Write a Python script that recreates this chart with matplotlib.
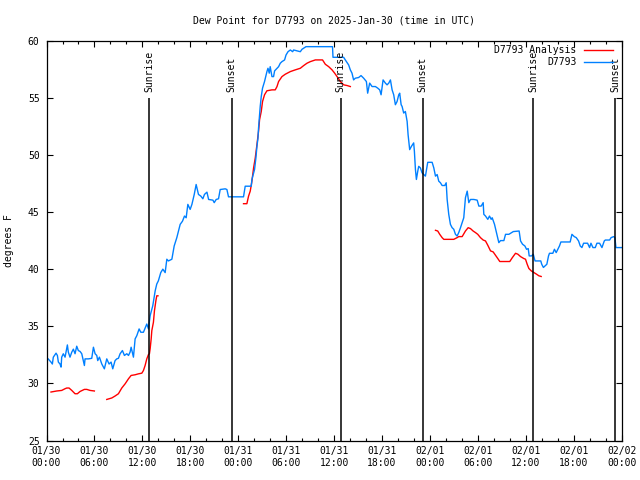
import matplotlib
matplotlib.use("Agg")
import matplotlib.pyplot as plt
import numpy as np
from matplotlib.ticker import MultipleLocator

# hours since 2025-01-30 00:00 UTC
blue_hours = [
    0.2, 0.56, 0.73, 0.85, 1.19, 1.36, 1.48, 1.69, 1.82, 1.9, 2.1, 2.32, 2.61, 2.73, 2.94,
    3.16, 3.36, 3.57, 3.78, 3.98, 4.2, 4.41, 4.61, 4.74, 4.82, 5.24, 5.66, 5.87, 6.08, 6.29,
    6.41, 6.62, 6.92, 7.24, 7.54, 7.83, 8.08, 8.29, 8.58, 8.79, 9.0, 9.21, 9.5, 9.75, 10.05,
    10.26, 10.46, 10.59, 10.88, 11.09, 11.3, 11.59, 11.8, 12.13, 12.55, 12.76, 12.97, 13.3,
    13.6, 13.8, 14.0, 14.3, 14.56, 14.85, 15.06, 15.26, 15.69, 15.98, 16.31, 16.52, 16.73,
    17.02, 17.27, 17.48, 17.69, 17.98, 18.2, 18.49, 18.73, 19.02, 19.32, 19.57, 19.77, 20.08,
    20.29, 20.83, 20.99, 21.24, 21.53, 21.74, 22.37, 22.58, 22.78, 24.66, 24.87, 25.63, 25.71,
    26.04, 26.21, 26.34, 26.47, 26.54, 26.67, 26.75, 26.88, 27.04, 27.29, 27.59, 27.72, 27.88,
    28.0, 28.22, 28.42, 28.55, 28.85, 29.05, 29.26, 29.47, 29.8, 29.98, 30.23, 30.52, 30.81,
    30.93, 31.77, 31.98, 32.48, 35.8, 35.86, 37.19, 37.4, 37.82, 38.03, 38.24, 38.44, 38.65,
    39.07, 39.37, 39.7, 40.04, 40.2, 40.45, 40.75, 41.17, 41.46, 41.71, 41.88, 42.13, 42.42,
    42.63, 42.84, 43.05, 43.26, 43.46, 43.67, 43.88, 44.09, 44.21, 44.39, 44.51, 44.71, 44.92,
    45.14, 45.26, 45.46, 45.68, 45.96, 46.05, 46.18, 46.3, 46.47, 46.59, 46.8, 47.01, 47.22,
    47.43, 47.72, 48.27, 48.48, 48.69, 48.9, 49.1, 49.31, 49.52, 49.85, 50.03, 50.15, 50.35,
    50.56, 50.77, 50.98, 51.19, 51.4, 51.6, 51.82, 52.03, 52.23, 52.44, 52.66, 52.86, 53.07,
    53.49, 53.91, 54.12, 54.41, 54.66, 54.74, 54.95, 55.24, 55.45, 55.66, 55.79, 56.08, 56.42,
    56.62, 56.83, 57.25, 57.46, 57.88, 58.43, 59.16, 59.34, 59.59, 59.88, 60.09, 60.3, 60.42,
    60.72, 60.93, 61.15, 61.87, 61.99, 62.2, 62.41, 62.63, 62.84, 62.96, 63.38, 63.58, 63.8,
    64.01, 64.21, 64.39, 65.55, 65.77, 66.06, 66.31, 66.6, 66.81, 67.02, 67.23, 67.73, 67.98,
    68.15, 68.4, 68.69, 68.9, 69.23, 69.53, 69.82, 69.95, 70.49, 70.67, 71.0, 71.15, 71.28,
    72.0,
]
blue_values = [
    32.15, 31.87, 31.7, 32.3, 32.65, 32.45, 31.87, 31.7, 31.43, 32.3, 32.6, 32.3, 33.37, 32.74,
    32.3, 32.74, 33.0, 32.6, 33.26, 32.88, 32.8, 32.6, 32.0, 31.57, 32.15, 32.15, 32.2, 33.17,
    32.6, 32.45, 32.0, 32.3, 31.7, 31.28, 32.15, 31.7, 31.87, 31.28, 32.0, 32.15, 32.2, 32.6,
    32.88, 32.45, 32.6, 32.45, 32.74, 33.17, 32.3, 33.9, 34.18, 34.77, 34.48, 34.48, 35.2,
    34.77, 35.93, 36.8, 38.1, 38.7, 38.98, 39.7, 40.0, 39.7, 40.87, 40.72, 40.87, 42.03, 42.76,
    43.34, 43.92, 44.2, 44.65, 44.5, 45.67, 45.23, 45.67, 46.54, 47.41, 46.54, 46.39, 46.16,
    46.54, 46.74, 46.1, 46.04, 45.82, 46.1, 46.16, 46.97, 47.03, 46.97, 46.33, 46.33, 47.26,
    47.26, 47.85, 48.72, 49.74, 50.75, 51.48, 52.35, 53.51, 54.24, 55.11, 55.84, 56.42, 57.29,
    57.58, 57.15, 57.72, 56.85, 56.85, 57.35, 57.58, 57.72, 58.02, 58.16, 58.31, 58.74, 59.03,
    59.18, 59.03, 59.18, 59.03, 59.24, 59.47, 59.47, 58.54, 58.54, 58.31, 57.87, 57.44, 57.15,
    56.56, 56.71, 56.77, 56.94, 56.71, 56.42, 55.4, 56.28, 55.98, 55.98, 55.84, 55.69, 55.26,
    56.56, 56.28, 56.13, 56.28, 56.56, 55.69, 55.26, 54.39, 54.67, 55.26, 55.4, 54.39, 54.24,
    53.66, 53.8, 52.93, 51.77, 50.46, 50.75, 51.05, 50.31, 48.72, 47.85, 48.57, 49.0, 48.86,
    48.43, 48.28, 48.14, 49.35, 49.35, 48.86, 48.14, 48.28, 47.7, 47.56, 47.32, 47.32, 47.56,
    46.1, 44.8, 43.92, 43.63, 43.49, 43.05, 42.9, 43.2, 43.63, 44.07, 44.5, 46.25, 46.83,
    45.82, 46.1, 46.1, 46.04, 45.52, 45.52, 45.82, 44.8, 44.65, 44.36, 44.65, 44.36, 44.5,
    43.92, 42.9, 42.32, 42.5, 42.5, 43.05, 43.05, 43.29, 43.34, 42.47, 42.18, 42.03, 41.74,
    41.8, 41.16, 41.16, 41.31, 40.72, 40.72, 40.43, 40.15, 40.29, 40.43, 41.16, 41.39, 41.39,
    41.74, 41.45, 41.74, 42.03, 42.38, 42.38, 43.05, 42.85, 42.76, 42.47, 42.03, 41.89, 42.27,
    42.27, 41.89, 42.27, 41.89, 41.89, 42.27, 42.27, 41.89, 42.47, 42.55, 42.55, 42.76, 42.85,
    42.76, 41.89, 41.89,
]

# analysis series, nan marks gaps
red_hours = [
    0.56, 1.27, 1.9, 2.32, 2.53, 2.82, 3.16, 3.57, 3.86, 4.2, 4.74, 5.04, 5.45, 5.99, np.nan,
    7.54, 8.17, 8.58, 9.0, 9.42, 9.84, 10.26, 10.59, 11.09, 11.5, 11.93, 12.13, 12.34, 12.55,
    12.76, 12.88, 12.97, 13.1, 13.18, 13.38, 13.51, 13.69, 13.8, 13.95, np.nan,
    24.66, 25.08, 25.29, 25.5, 25.71, 25.92, 26.13, 26.34, 26.54, 26.67, 26.88, 27.04, 27.29,
    27.59, 28.22, 28.63, 28.85, 29.05, 29.47, 29.89, 30.52, 31.14, 31.77, 32.18, 32.6, 33.02,
    33.65, 34.55, 34.9, 35.32, 35.74, 36.07, 36.37, 36.78, 37.2, 37.62, 38.03, np.nan,
    48.69, 48.97, 49.22, 49.52, 49.73, 50.98, 51.4, 51.6, 52.03, 52.44, 52.78, 53.07, 53.4,
    53.7, 53.98, 54.32, 54.66, 54.95, 55.24, 55.58, 55.91, 56.2, 56.49, 56.74, 57.99, 58.3,
    58.71, 59.0, 59.34, 59.75, 59.96, 60.17, 60.38, 60.68, 61.0, 61.34, 61.63, 61.92,
]
red_values = [
    29.25, 29.34, 29.39, 29.54, 29.6, 29.6, 29.39, 29.1, 29.1, 29.3, 29.48, 29.48, 29.39, 29.34,
    np.nan,
    28.6, 28.73, 28.9, 29.1, 29.6, 29.97, 30.41, 30.7, 30.76, 30.84, 30.9, 31.13, 31.57, 32.15,
    32.53, 32.59, 33.03, 33.9, 34.62, 35.35, 36.36, 37.24, 37.67, 37.67, np.nan,
    45.73, 45.73, 46.39, 46.83, 47.7, 48.86, 49.74, 50.9, 52.06, 53.08, 53.8, 54.67, 55.26,
    55.61, 55.69, 55.69, 55.98, 56.42, 56.85, 57.06, 57.29, 57.44, 57.58, 57.81, 58.02, 58.16,
    58.31, 58.31, 57.93, 57.72, 57.44, 57.15, 56.85, 56.42, 56.13, 56.07, 55.98, np.nan,
    43.4, 43.34, 43.05, 42.76, 42.61, 42.61, 42.76, 42.85, 42.85, 43.34, 43.63, 43.55, 43.34,
    43.2, 43.05, 42.76, 42.55, 42.47, 42.09, 41.6, 41.51, 41.22, 40.93, 40.67, 40.67, 41.0,
    41.39, 41.31, 41.1, 40.93, 40.87, 40.43, 40.06, 39.85, 39.71, 39.56, 39.42, 39.36,
]

sun_hours = [12.88, 23.16, 36.82, 47.09, 60.93, 71.15]
sun_labels = ["Sunrise", "Sunset", "Sunrise", "Sunset", "Sunrise", "Sunset"]

tick_hours = list(range(0, 73, 6))
tick_labels = [
    "01/30\n00:00", "01/30\n06:00", "01/30\n12:00", "01/30\n18:00",
    "01/31\n00:00", "01/31\n06:00", "01/31\n12:00", "01/31\n18:00",
    "02/01\n00:00", "02/01\n06:00", "02/01\n12:00", "02/01\n18:00",
    "02/02\n00:00",
]

plt.rcParams["font.family"] = ["DejaVu Sans Mono"]
plt.rcParams["font.size"] = 7

fig = plt.figure(figsize=(6.4, 4.8), dpi=100)
ax = fig.add_axes([0.0727, 0.0821, 0.8987, 0.8333])

red_line, = ax.plot(red_hours, red_values, color="#ff0000", lw=1.0, label="D7793 Analysis")
blue_line, = ax.plot(blue_hours, blue_values, color="#0080ff", lw=1.0, label="D7793")

ax.vlines(sun_hours, 25, 55, color="black", lw=1.1)
for h, lab in zip(sun_hours, sun_labels):
    ax.text(h, 55.5, lab, rotation=90, ha="center", va="bottom", fontsize=7)

ax.set_xlim(0, 72)
ax.set_ylim(25, 60)
ax.set_xticks(tick_hours)
ax.set_xticklabels(tick_labels)
ax.xaxis.set_minor_locator(MultipleLocator(2))
ax.set_yticks(range(25, 61, 5))
ax.tick_params(which="both", direction="in", top=True, right=True, width=0.8)
ax.tick_params(which="major", length=4.5)
ax.tick_params(which="minor", length=2.5)
ax.tick_params(axis="x", pad=4)
ax.tick_params(axis="y", pad=5)
for sp in ax.spines.values():
    sp.set_linewidth(0.9)

ax.set_ylabel("degrees F")
ax.yaxis.set_label_coords(-0.056, 0.5)
ax.set_title("Dew Point for D7793 on 2025-Jan-30 (time in UTC)", fontsize=7, pad=12)

# gnuplot-style key: text right-aligned, sample line after it
ax.legend(
    handles=[red_line, blue_line],
    loc="upper right",
    bbox_to_anchor=(0.9894, 0.9955),
    markerfirst=False,
    frameon=False,
    handlelength=3.0,
    handletextpad=0.7,
    labelspacing=0.2,
    borderaxespad=0.0,
    borderpad=0.3,
)

fig.savefig("out.png", dpi=100)
